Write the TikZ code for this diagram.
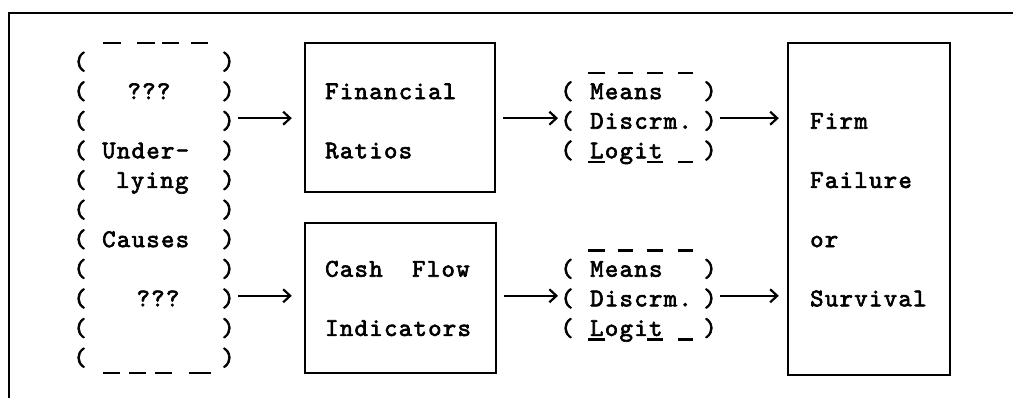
\documentclass[tikz,border=0pt]{standalone}
\usepackage{fontspec}
\usetikzlibrary{arrows.meta}
% typewriter face: Latin Modern Mono, tracked out to a 0.6em-like pitch and darkened
\newfontfamily\twfam{lmmono10-regular.otf}[LetterSpace=5.2,FakeBold=2.5]
\newcommand\twfont{\twfam\fontsize{25.5}{29.6}\selectfont}

\begin{document}
\begin{tikzpicture}[x=1pt,y=-1pt,
  tw/.style={font=\twfont, inner sep=0pt, anchor=base west},
  tc/.style={font=\twfont, inner sep=0pt, anchor=base},
  rule/.style={line width=2.4pt},
  boxst/.style={draw, line width=2.4pt, inner sep=0pt},
  dashseg/.style={line width=2.6pt},
  arr/.style={line width=2.4pt, -{Straight Barb[length=7pt,width=13pt,line width=2.2pt]}}]
\useasboundingbox (0,0) rectangle (1013,398);

% page frame (top rule and left rule)
\draw[rule] (1013,13) -- (9,13) -- (9,398);

% ---- underlying causes column ----
\foreach \r/\y in {1/69.5,2/99.1,3/128.7,4/158.3,5/187.9,6/217.5,7/247.1,8/276.7,9/306.3,10/335.9,11/365.5}{
  \node[tc] (lp\r) at (80,\y) {(};
  \node[tc] (rp\r) at (228,\y) {)};
}
\foreach \a/\b in {103/121,137/155,162/179,191/208} \draw[dashseg] (\a,43) -- (\b,43);
\foreach \a/\b in {103/120,129/146,155/172,189/211} \draw[dashseg] (\a,373) -- (\b,373);
\node[tc] (q1) at (149,99.1) {???};
\node[tw] (u1) at (102,158.3) {Under-};
\node[tw] (u2) at (116,187.9) {lying};
\node[tw] (u3) at (102,247.1) {Causes};
\node[tc] (q2) at (158,306.3) {???};

% ---- indicator boxes ----
\node[boxst, minimum width=190pt, minimum height=149pt] (fin) at (400,117.5) {};
\node[tw] (fin1) at (325,99.1) {Financial};
\node[tw] (fin2) at (325,158.3) {Ratios};

\node[boxst, minimum width=191pt, minimum height=150pt] (cash) at (400.5,298) {};
\node[tw] (cash1) at (325,276.7) {Cash\ \ Flow};
\node[tw] (cash2) at (325,335.9) {Indicators};

% ---- outcome box ----
\node[boxst, minimum width=162pt, minimum height=332pt] (firm) at (869,209) {};
\node[tw] (firm1) at (810,128.7) {Firm};
\node[tw] (firm2) at (810,187.9) {Failure};
\node[tw] (firm3) at (810,247.1) {or};
\node[tw] (firm4) at (810,306.3) {Survival};

% ---- method groups ----
\foreach \g/\o in {1/0,2/177.6}{
  \foreach \r/\y in {a/99.1,b/128.7,c/158.3}{
    \node[tc] (mlp\g\r) at (567,\y+\o) {(};
    \node[tc] (mrp\g\r) at (710,\y+\o) {)};
  }
  \node[tw] (mean\g) at (590,99.1+\o) {Means};
  \node[tw] (disc\g) at (590,128.7+\o) {Discrm.};
  \node[tw] (logit\g) at (590,158.3+\o) {Logit};
  \foreach \a/\b in {588/605,618/633,647/663,678/693} \draw[dashseg] (\a,73+\o) -- (\b,73+\o);
  \foreach \a/\b in {588/605,647/663,678/693} \draw[dashseg] (\a,162+\o) -- (\b,162+\o);
}

% ---- connectors ----
\coordinate (c1) at (238,118.2);
\coordinate (c2) at (238,295.8);
\coordinate (m1in) at (558,118.2);
\coordinate (m2in) at (558,295.8);
\coordinate (m1out) at (720,118.2);
\coordinate (m2out) at (720,295.8);
\draw[arr, shorten >=12pt] (c1) -- (fin.west |- c1);
\draw[arr, shorten >=12pt] (c2) -- (cash.west |- c2);
\draw[arr, shorten <=7pt] (fin.east |- m1in) -- (m1in);
\draw[arr, shorten <=7pt] (cash.east |- m2in) -- (m2in);
\draw[arr, shorten >=8pt] (m1out) -- (firm.west |- m1out);
\draw[arr, shorten >=8pt] (m2out) -- (firm.west |- m2out);
\end{tikzpicture}
\end{document}
